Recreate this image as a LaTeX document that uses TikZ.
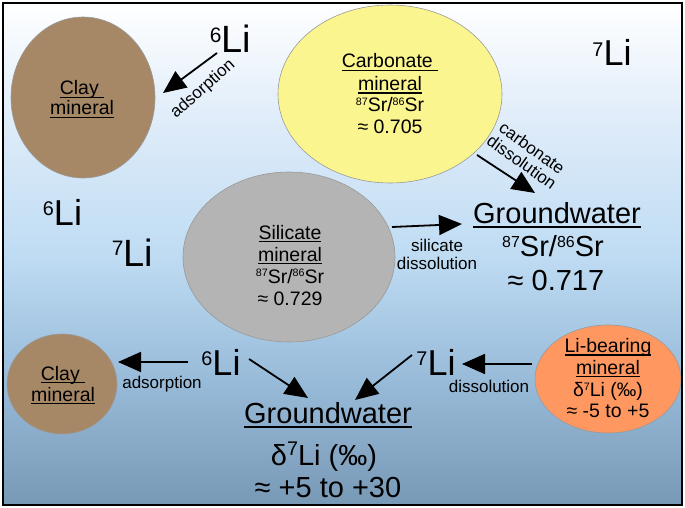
\documentclass[tikz,border=0pt]{standalone}
\usepackage{fontspec}
\setmainfont{Liberation Sans}
\usepackage{graphicx}
\usetikzlibrary{shapes.geometric,arrows.meta}
\definecolor{bgA}{RGB}{255,255,255}
\definecolor{bgB}{RGB}{221,235,249}
\definecolor{bgC}{RGB}{191,220,243}
\definecolor{bgD}{RGB}{152,187,217}
\definecolor{bgE}{RGB}{120,153,182}
\definecolor{claycol}{RGB}{166,136,103}
\definecolor{carbcol}{RGB}{250,245,142}
\definecolor{silcol}{RGB}{180,180,180}
\definecolor{libcol}{RGB}{255,152,96}
\pgfdeclareverticalshading{bgshade}{100bp}{color(0bp)=(bgE); color(25bp)=(bgE); color(37.5bp)=(bgD); color(50bp)=(bgC); color(62.5bp)=(bgB); color(75bp)=(bgA); color(100bp)=(bgA)}
\newsavebox\ulbox
\newcommand{\ulx}[1]{\sbox\ulbox{#1}\rlap{\rule[-0.16em]{\wd\ulbox}{0.07em}}\usebox\ulbox}
\newcommand{\supx}[2][0.55]{\raisebox{0.32em}{\scalebox{#1}{#2}}}
\newcommand{\lisup}[1]{\raisebox{0.27em}{\scalebox{0.55}{#1}}}
\tikzset{
  mineral/.style={ellipse, draw=black!40, line width=0.6pt, inner sep=0pt},
  txt/.style={inner sep=0pt, anchor=base, font=\fontsize{19.5}{22}\selectfont},
  bigtxt/.style={inner sep=0pt, anchor=base, font=\fontsize{29}{33}\selectfont},
  smalltxt/.style={inner sep=0pt, font=\fontsize{17}{17.5}\selectfont},
  litxt/.style={inner sep=0pt, anchor=base, font=\fontsize{36}{40}\selectfont},
  arr/.style={line width=1.8pt, -{Triangle[length=23pt,width=20pt]}}
}
\begin{document}
\begin{tikzpicture}[x=1pt,y=-1pt]
\useasboundingbox (0,0) rectangle (685,508);
\fill[white] (0,0) rectangle (685,508);
\shade[shading=bgshade] (3,3) rectangle (682,505);
% minerals
\node[mineral, fill=claycol, minimum width=144pt, minimum height=161pt] (clayT) at (83,97.5) {};
\node[mineral, fill=carbcol, minimum width=224pt, minimum height=178pt] (carb) at (390,94) {};
\node[mineral, fill=silcol, minimum width=212pt, minimum height=170pt] (sil) at (289,257) {};
\node[mineral, fill=claycol, minimum width=110pt, minimum height=100pt] (clayB) at (62,384) {};
\node[mineral, fill=libcol, minimum width=146pt, minimum height=108pt] (libe) at (608,379) {};
% texts in minerals
\node[txt] (clayT1) at (82,95) {\ulx{Clay\ }};
\node[txt] (clayT2) at (82,115) {\ulx{mineral}};
\node[txt] (carb1) at (390,68) {\ulx{Carbonate\ }};
\node[txt] (carb2) at (390,90.5) {\ulx{mineral}};
\node[txt] (carb3) at (390,112) {\supx{87}Sr/\supx{86}Sr};
\node[txt] (carb4) at (390,134) {≈ 0.705};
\node[txt] (sil1) at (290,239) {\ulx{Silicate}};
\node[txt] (sil2) at (290,261) {\ulx{mineral}};
\node[txt] (sil3) at (290,283) {\supx{87}Sr/\supx{86}Sr};
\node[txt] (sil4) at (290,305.5) {≈ 0.729};
\node[txt] (clayB1) at (63,380) {\ulx{Clay\ }};
\node[txt] (clayB2) at (63,401) {\ulx{mineral}};
\node[txt] (libe1) at (608,352.5) {\ulx{Li-bearing}};
\node[txt] (libe2) at (608,374) {\ulx{mineral}};
\node[txt] (libe3) at (608,396.5) {δ\supx{7}Li (‰)};
\node[txt] (libe4) at (608,417.5) {≈ -5 to +5};
% groundwater
\node[bigtxt] (gwU1) at (557,223) {\ulx{Groundwater}};
\node[bigtxt] (gwU2) at (553,256.5) {\supx{87}Sr/\supx{86}Sr};
\node[bigtxt] (gwU3) at (556,290) {≈ 0.717};
\node[bigtxt] (gwL1) at (328,423) {\ulx{Groundwater}};
\node[bigtxt] (gwL2) at (324,465) {δ\supx[0.68]{7}Li (‰)};
\node[bigtxt] (gwL3) at (328,497) {≈ +5 to +30};
% Li labels
\node[litxt, font=\fontsize{38}{40}\selectfont] (liT6) at (230.5,53) {\lisup{6}Li};
\node[litxt] (liT7) at (612,66) {\lisup{7}Li};
\node[litxt] (liM6) at (62.5,225) {\lisup{6}Li};
\node[litxt, font=\fontsize{38}{40}\selectfont] (liM7) at (132.5,266) {\lisup{7}Li};
\node[litxt] (liB6) at (221,375) {\lisup{6}Li};
\node[litxt] (liB7) at (436,375) {\lisup{7}Li};
% process labels
\node[smalltxt, rotate=41.5] (adsT) at (203,89) {adsorption};
\node[smalltxt, align=center, rotate=-35.5] (carbL) at (527,155) {carbonate\\dissolution};
\node[smalltxt, anchor=base] (silL1) at (437,251) {silicate};
\node[smalltxt, anchor=base] (silL2) at (437,269) {dissolution};
\node[smalltxt, anchor=base] (adsB) at (162,388) {adsorption};
\node[smalltxt, anchor=base] (dissB) at (489,392) {dissolution};
% arrow end points
\coordinate (a1s) at (217,53);  \coordinate (a1e) at (163,93);
\coordinate (a2s) at (477,155); \coordinate (a2e) at (535,193);
\coordinate (a3s) at (392,227); \coordinate (a3e) at (462,224);
\coordinate (a4s) at (188,362); \coordinate (a4e) at (118,362);
\coordinate (a5s) at (249,359); \coordinate (a5e) at (308,398);
\coordinate (a6s) at (412,355); \coordinate (a6e) at (355,400);
\coordinate (a7s) at (532,364); \coordinate (a7e) at (462,364);
\draw[arr] (a1s) -- (a1e);
\draw[arr] (a2s) -- (a2e);
\draw[arr] (a3s) -- (a3e);
\draw[arr] (a4s) -- (a4e);
\draw[arr] (a5s) -- (a5e);
\draw[arr] (a6s) -- (a6e);
\draw[arr] (a7s) -- (a7e);
% frame
\draw[line width=2.5pt] (3,3) rectangle (682,505);
\end{tikzpicture}
\end{document}
